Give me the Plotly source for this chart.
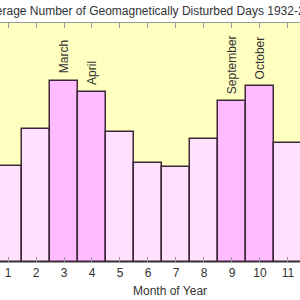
import plotly.graph_objects as go

months = [1, 2, 3, 4, 5, 6, 7, 8, 9, 10, 11]
disturbed_days = [2.41, 3.34, 4.55, 4.27, 3.27, 2.49, 2.39, 3.09, 4.05, 4.42, 2.99]
highlight = [False, False, True, True, False, False, False, False, True, True, False]
labels = {3: "March", 4: "April", 9: "September", 10: "October"}
tick_labels = [str(m) for m in months]
title_text = "Average Number of Geomagnetically Disturbed Days 1932-2009"

colors = ["#FFBBFF" if h else "#FFE0FF" for h in highlight]

fig = go.Figure()
fig.add_trace(go.Bar(
    x=months, y=disturbed_days, width=1.0,
    marker=dict(color=colors, line=dict(color="#3A2838", width=1.5)),
    showlegend=False, hoverinfo="skip",
))

for m, name in labels.items():
    fig.add_annotation(
        x=m, y=disturbed_days[months.index(m)], xref="x", yref="y",
        text=name, textangle=-90, showarrow=False,
        xanchor="center", yanchor="bottom", yshift=5,
        font=dict(family="Liberation Sans, Arial", size=12, color="#333333"),
    )

fig.add_annotation(
    x=-0.068, y=1.0, xref="paper", yref="paper", text=title_text,
    showarrow=False, xanchor="left", yanchor="bottom", yshift=3,
    font=dict(family="Liberation Sans, Arial", size=12, color="#333333"),
)
fig.add_annotation(
    x=6.79, y=0, xref="x", yref="paper", text="Month of Year",
    showarrow=False, xanchor="center", yanchor="top", yshift=-20,
    font=dict(family="Liberation Sans, Arial", size=12, color="#333333"),
)

fig.update_layout(
    width=300, height=300,
    margin=dict(l=0, r=0, t=23, b=38),
    paper_bgcolor="white", plot_bgcolor="#FFFFC0",
    bargap=0,
    xaxis=dict(
        range=[0.714, 11.43], tickmode="array", tickvals=months, ticktext=tick_labels,
        showline=True, linecolor="#999999", linewidth=1, mirror="ticks",
        ticks="inside", ticklen=5, tickcolor="#999999", showgrid=False, zeroline=False,
        tickfont=dict(family="Liberation Sans, Arial", size=12, color="#333333"),
    ),
    yaxis=dict(range=[0, 6], visible=False, showgrid=False, zeroline=False),
)

fig.write_html("out.html")
